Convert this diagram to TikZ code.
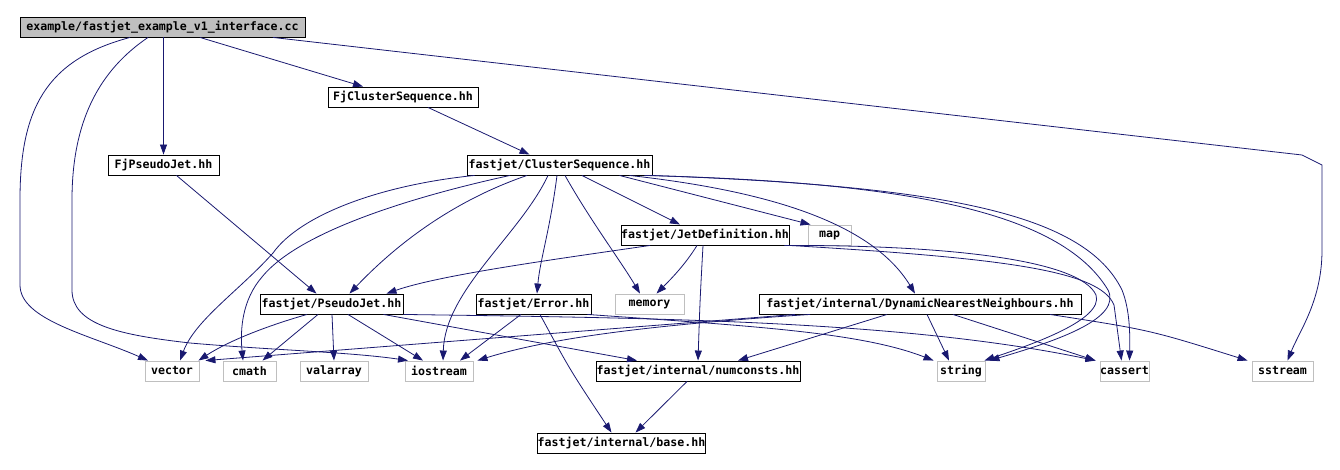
\documentclass[tikz,border=0pt]{standalone}
\usepackage{fontspec}
\usepackage{tikz}
\usetikzlibrary{arrows.meta, positioning}
\newfontfamily\dotfont{DejaVu Sans Mono}
\definecolor{edgeblue}{HTML}{191970}
\definecolor{sysgray}{HTML}{BFBFBF}

\begin{document}
\begin{tikzpicture}[x=1pt, y=-1pt,
  file/.style={draw=black, fill=white, line width=0.9pt, font=\dotfont\bfseries\fontsize{11.6}{12}\selectfont,
               minimum height=20pt, inner sep=0pt},
  sys/.style={file, draw=sysgray},
  main/.style={file, fill=sysgray},
  arr/.style={-{Triangle[length=10pt,width=7pt]}, draw=edgeblue, line width=0.8pt}]
\useasboundingbox (0,0) rectangle (1340,470);
\node[main, minimum width=285pt] (root) at (162.5,27) {example/fastjet\_example\_v1\_interface.cc};
\node[file, minimum width=150pt] (fjcs) at (403,97) {FjClusterSequence.hh};
\node[file, minimum width=111pt] (fjpj) at (163.5,165) {FjPseudoJet.hh};
\node[file, minimum width=185pt] (cs) at (559.5,165) {fastjet/ClusterSequence.hh};
\node[file, minimum width=168pt] (jetdef) at (705,235) {fastjet/JetDefinition.hh};
\node[sys, minimum width=43pt] (map) at (829.5,235) {map};
\node[file, minimum width=143pt] (pj) at (331.5,304) {fastjet/PseudoJet.hh};
\node[file, minimum width=115pt] (err) at (533.5,304) {fastjet/Error.hh};
\node[sys, minimum width=69pt] (mem) at (649.5,304) {memory};
\node[file, minimum width=322pt] (dnn) at (920,304) {fastjet/internal/DynamicNearestNeighbours.hh};
\node[sys, minimum width=54pt] (vector) at (172,371) {vector};
\node[sys, minimum width=53pt] (cmath) at (249.5,371) {cmath};
\node[sys, minimum width=68pt] (valarray) at (334,371) {valarray};
\node[sys, minimum width=68pt] (iostream) at (439,371) {iostream};
\node[file, minimum width=204pt] (numc) at (698,371) {fastjet/internal/numconsts.hh};
\node[sys, minimum width=48pt] (string) at (961,371) {string};
\node[sys, minimum width=49pt] (cassert) at (1124.5,371) {cassert};
\node[sys, minimum width=61pt] (sstream) at (1282.5,371) {sstream};
\node[file, minimum width=163pt] (base) at (621.5,443) {fastjet/internal/base.hh};

\draw[arr] ([xshift=37.5pt]root.south) -- ([xshift=-40pt]fjcs.north);
\draw[arr] (fjpj.north |- root.south) -- (fjpj.north);
\draw[arr] ([xshift=-32.5pt]root.south) .. controls (45,60) and (20,110) .. (20,200) -- (20,285)
  .. controls (20,320) and (90,335) .. ([xshift=-24pt]vector.north);
\draw[arr] ([xshift=-14.5pt]root.south) .. controls (100,70) and (72,120) .. (72,200) -- (72,290)
  .. controls (72,325) and (120,335) .. (190,343) .. controls (270,350) and (350,352) .. ([xshift=-31pt]iostream.north);
\draw[arr] ([xshift=110.5pt]root.south) -- (1302,155) -- (1322,165) -- (1322,250)
  .. controls (1322,300) and (1300,330) .. ([xshift=5pt]sstream.north);
\draw[arr] ([xshift=25pt]fjcs.south) -- ([xshift=-30pt]cs.north);
\draw[arr] ([xshift=13pt]fjpj.south) -- ([xshift=-15pt]pj.north);

\draw[arr] ([xshift=8pt]cs.south west) .. controls (380,185) and (300,215) .. (273,253)
  .. controls (240,290) and (195,320) .. ([xshift=8pt]vector.north);
\draw[arr] ([xshift=-49.5pt]cs.south) .. controls (420,195) and (300,230) .. (262,277)
  .. controls (242,300) and (240,330) .. ([xshift=-6.5pt]cmath.north);
\draw[arr] ([xshift=-32.5pt]cs.south) .. controls (470,195) and (410,230) .. ([xshift=18pt]pj.north);
\draw[arr] ([xshift=-11.5pt]cs.south) .. controls (520,235) and (445,290) .. ([xshift=4pt]iostream.north);
\draw[arr] ([xshift=-2.5pt]cs.south) .. controls (550,230) and (540,260) .. ([xshift=3.5pt]err.north);
\draw[arr] ([xshift=5.5pt]cs.south) .. controls (590,220) and (620,260) .. ([xshift=-9.5pt]mem.north);
\draw[arr] ([xshift=22.5pt]cs.south) -- ([xshift=-25pt]jetdef.north);
\draw[arr] ([xshift=60pt]cs.south) -- ([xshift=-19pt]map.north);
\draw[arr] ([xshift=70pt]cs.south) .. controls (760,190) and (870,220) .. ([xshift=-5pt]dnn.north);
\draw[arr] ([xshift=-8pt]cs.south east) .. controls (900,182) and (1060,210) .. (1108,290)
  .. controls (1122,318) and (1060,340) .. ([xshift=4pt]string.north east);
\draw[arr] ([xshift=-2pt]cs.south east) .. controls (950,186) and (1085,215) .. (1122,290)
  .. controls (1130,310) and (1130,335) .. ([xshift=5pt]cassert.north);

\draw[arr] ([xshift=-55pt]jetdef.south) .. controls (550,260) and (440,275) .. ([xshift=55pt]pj.north);
\draw[arr] ([xshift=-8pt]jetdef.south) .. controls (685,265) and (670,280) .. ([xshift=7pt]mem.north);
\draw[arr] ([xshift=-2pt]jetdef.south) .. controls (700,300) .. (numc.north);
\draw[arr] ([xshift=-5pt]jetdef.south east) .. controls (950,245) and (1080,260) .. (1096,295)
  .. controls (1104,320) and (1030,345) .. ([xshift=-1pt]string.north east);
\draw[arr] (jetdef.south east) .. controls (1000,258) and (1100,270) .. (1114,305)
  -- ([xshift=-3pt]cassert.north);

\draw[arr] ([xshift=-24.5pt]pj.south) .. controls (270,325) and (230,340) .. ([xshift=-1pt]vector.north east);
\draw[arr] ([xshift=-13.5pt]pj.south) -- ([xshift=13pt]cmath.north);
\draw[arr] ([xshift=0.5pt]pj.south) -- (valarray.north);
\draw[arr] ([xshift=16.5pt]pj.south) -- ([xshift=-16pt]iostream.north);
\draw[arr] ([xshift=52pt]pj.south) -- ([xshift=-61pt]numc.north);
\draw[arr] (pj.south east) .. controls (650,318) and (900,320) .. ([xshift=-4pt]cassert.north west);

\draw[arr] ([xshift=-12.5pt]err.south) -- ([xshift=21pt]iostream.north);
\draw[arr] ([xshift=6.5pt]err.south) .. controls (570,370) .. ([xshift=-10pt]base.north);
\draw[arr] ([xshift=-4pt]err.south east) .. controls (750,326) and (860,332) .. ([xshift=-3pt]string.north west);

\draw[arr] ([xshift=-125pt]dnn.south) -- ([xshift=6pt]vector.north east);
\draw[arr] ([xshift=-110pt]dnn.south) .. controls (650,325) and (550,338) .. ([xshift=4pt]iostream.north east);
\draw[arr] ([xshift=-33pt]dnn.south) -- ([xshift=40pt]numc.north);
\draw[arr] ([xshift=7pt]dnn.south) -- ([xshift=-12pt]string.north);
\draw[arr] ([xshift=33pt]dnn.south) -- ([xshift=-4pt]cassert.north west);
\draw[arr] ([xshift=130pt]dnn.south) .. controls (1150,330) .. ([xshift=-4pt]sstream.north west);

\draw[arr] ([xshift=-11pt]numc.south) -- ([xshift=14pt]base.north);
\end{tikzpicture}
\end{document}
